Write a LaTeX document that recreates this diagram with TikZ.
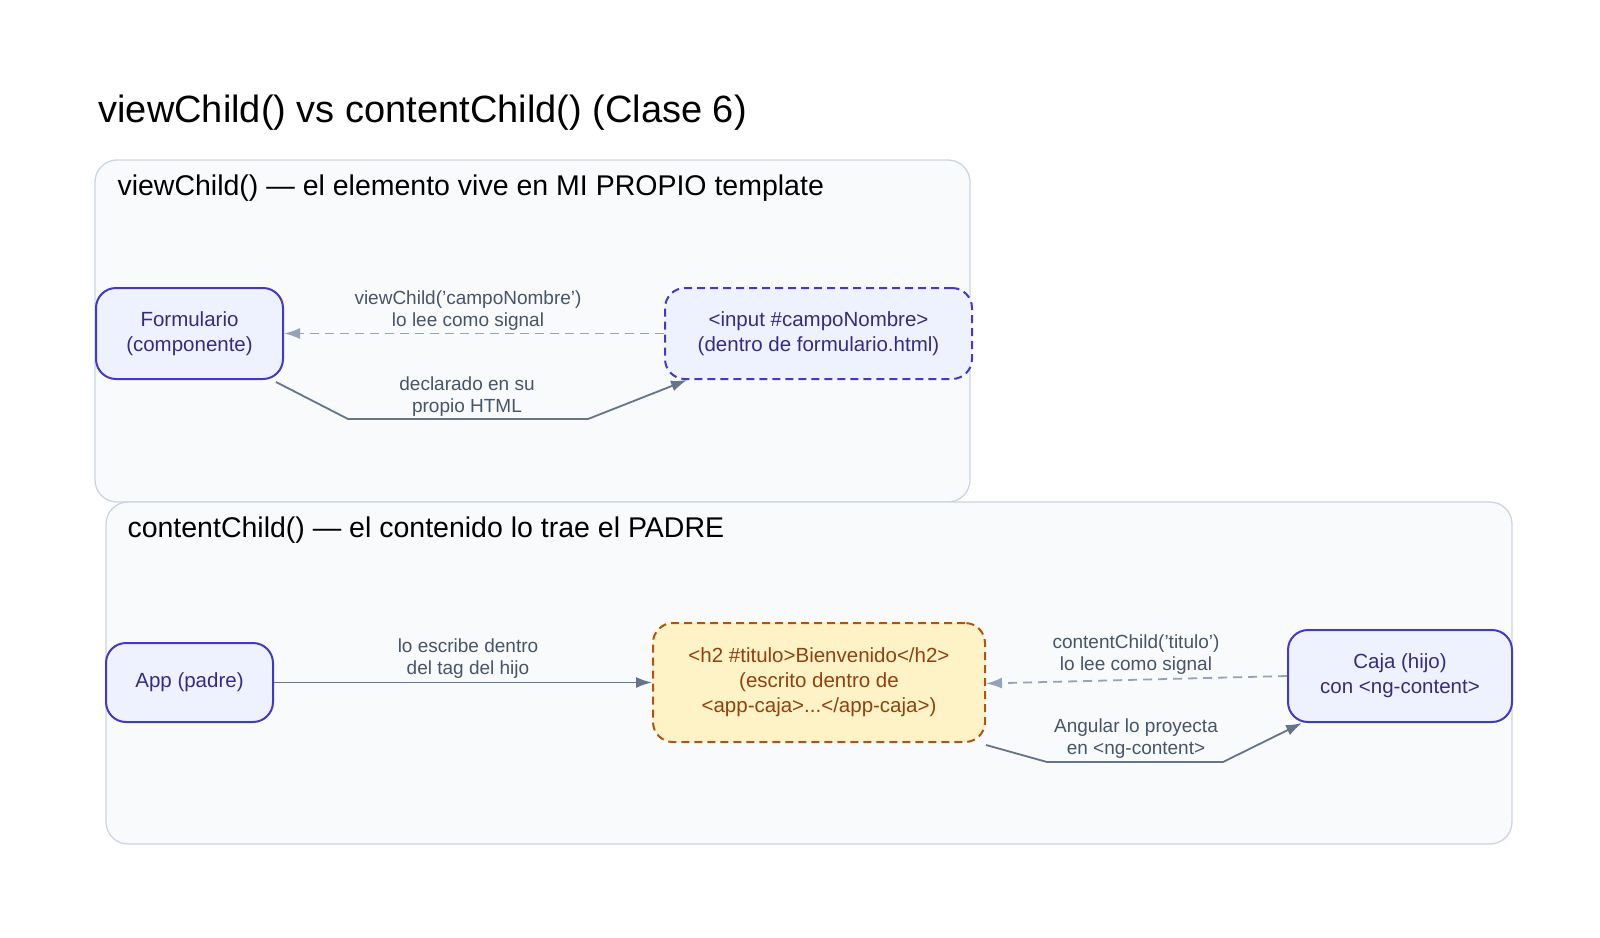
\documentclass[tikz,border=0pt]{standalone}
\usepackage{fontspec}
\setmainfont{Liberation Sans}
\usetikzlibrary{arrows.meta}
\definecolor{clfill}{HTML}{F8FAFC}\definecolor{clline}{HTML}{CBD5E1}
\definecolor{nfill}{HTML}{EEF2FF}\definecolor{nline}{HTML}{4338CA}\definecolor{ntext}{HTML}{312E81}
\definecolor{hfill}{HTML}{FEF3C7}\definecolor{hline}{HTML}{B45309}\definecolor{htext}{HTML}{92400E}
\definecolor{esolid}{HTML}{64748B}\definecolor{edash}{HTML}{94A3B8}\definecolor{elab}{HTML}{475569}
\newcommand{\aq}{\char39\relax}
\begin{document}
\begin{tikzpicture}[x=1pt,y=-1pt,
 cluster/.style={draw=clline,fill=clfill,line width=1.3pt,rounded corners=22pt},
 nd/.style={draw=nline,fill=nfill,text=ntext,line width=2pt,rounded corners=20pt,align=center,font=\fontsize{20.5}{25}\selectfont,inner sep=0pt},
 hn/.style={draw=hline,fill=hfill,text=htext,line width=2pt,rounded corners=20pt,align=center,font=\fontsize{20.5}{25}\selectfont,inner sep=0pt,dashed,dash pattern=on 8pt off 5pt},
 sol/.style={draw=esolid,line width=1.8pt,-{Latex[length=16pt,width=11pt]}},
 dsh/.style={draw=edash,line width=1.8pt,dash pattern=on 9pt off 6pt,-{Latex[length=16pt,width=11pt]}},
 lab/.style={text=elab,align=center,font=\fontsize{19}{22}\selectfont,inner sep=0pt}]
\useasboundingbox (0,0) rectangle (1600,937);
\node[anchor=base west,font=\fontsize{38}{42}\selectfont] (title) at (95,122) {viewChild() vs contentChild() (Clase 6)};
\draw[cluster] (95,160) rectangle (970,502);
\node[anchor=base west,font=\fontsize{28.5}{32}\selectfont] (l1) at (114,195) {viewChild() — el elemento vive en MI PROPIO template};
\draw[cluster] (106,502) rectangle (1512,844);
\node[anchor=base west,font=\fontsize{28.5}{32}\selectfont] (l2) at (124,537) {contentChild() — el contenido lo trae el PADRE};
\node[nd,minimum width=187pt,minimum height=91pt] (form) at (189.5,333.5) {Formulario\\(componente)};
\node[nd,dashed,dash pattern=on 8pt off 5pt,minimum width=307pt,minimum height=91pt] (inp) at (818.5,333.5) {<input \#campoNombre>\\(dentro de formulario.html)};
\node[nd,minimum width=167pt,minimum height=79pt] (app) at (189.5,682.5) {App (padre)};
\node[hn,minimum width=332pt,minimum height=119pt] (h2) at (819,682.5) {<h2 \#titulo>Bienvenido</h2>\\(escrito dentro de\\<app-caja>...</app-caja>)};
\node[nd,minimum width=224pt,minimum height=92pt] (caja) at (1400,676) {Caja (hijo)\\con <ng-content>};
\coordinate (a1) at (348,419);\coordinate (a2) at (588,419);
\coordinate (b1) at (1047,762);\coordinate (b2) at (1223,762);
\draw[dsh] (inp.west) -- (form.east);
\node[lab] (t1) at (468,311) {viewChild(\aq campoNombre\aq)\\lo lee como signal};
\draw[sol] (form.south east) ++(-8,2) coordinate (fs) (fs) -- (a1) -- (a2) -- ([xshift=23pt]inp.south west);
\node[lab] (t2) at (467,397) {declarado en su\\propio HTML};
\draw[sol] (app.east) -- (h2.west);
\node[lab] (t3) at (468,659) {lo escribe dentro\\del tag del hijo};
\draw[dsh] (caja.west) -- ([yshift=-1pt]h2.east);
\node[lab] (t4) at (1136,655) {contentChild(\aq titulo\aq)\\lo lee como signal};
\draw[sol] ([yshift=-2pt]h2.south east) -- (b1) -- (b2) -- ([xshift=15pt]caja.south west);
\node[lab] (t5) at (1136,739) {Angular lo proyecta\\en <ng-content>};
\end{tikzpicture}
\end{document}
